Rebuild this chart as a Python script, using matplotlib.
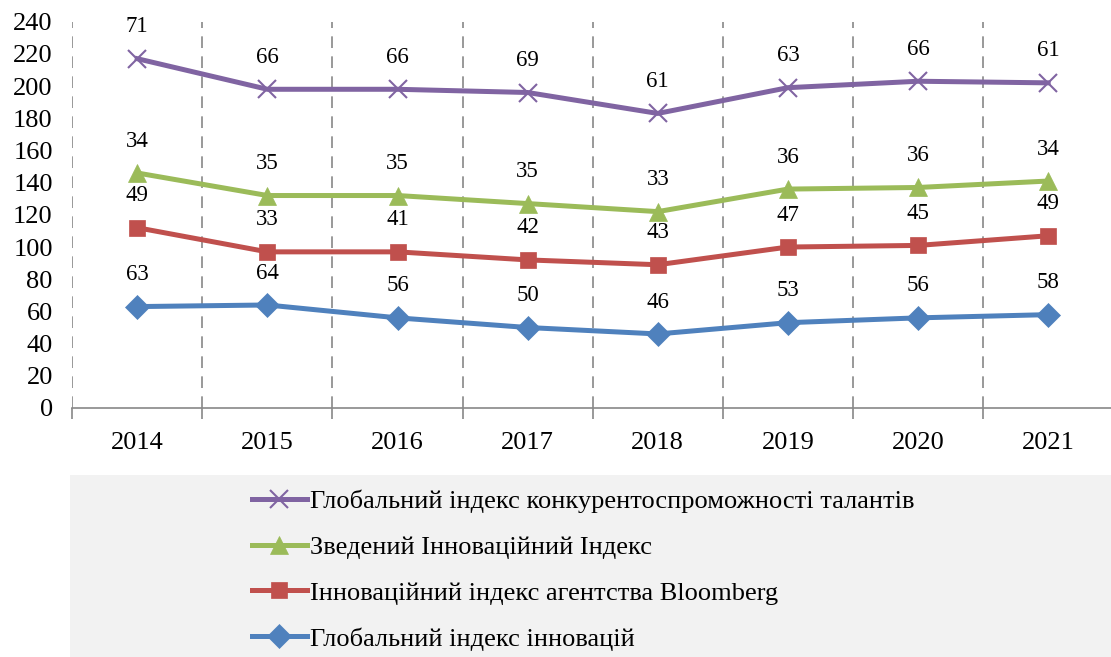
import matplotlib.pyplot as plt
import matplotlib.patches as mpatches
import numpy as np

years = ["2014", "2015", "2016", "2017", "2018", "2019", "2020", "2021"]

# values per index (chart is stacked)
gii = [63, 64, 56, 50, 46, 53, 56, 58]
bloomberg = [49, 33, 41, 42, 43, 47, 45, 49]
summary = [34, 35, 35, 35, 33, 36, 36, 34]
talent = [71, 66, 66, 69, 61, 63, 66, 61]

names = [
    "Глобальний індекс інновацій",
    "Інноваційний індекс агентства Bloomberg",
    "Зведений Інноваційний Індекс",
    "Глобальний індекс конкурентоспроможності талантів",
]
colors = ["#4f81bd", "#c0504d", "#9bbb59", "#8064a2"]
markers = ["D", "s", "^", "x"]
msizes = [12, 11, 13, 13]

plt.rcParams["font.family"] = ["Liberation Serif", "DejaVu Serif"]

fig = plt.figure(figsize=(11.11, 6.57), dpi=100)
ax = fig.add_axes([0.065, 0.379, 0.937, 0.588])

# legend background
fig.patches.append(mpatches.Rectangle((0.063, 0.0), 0.937, 0.277,
                                      transform=fig.transFigure,
                                      facecolor="#f2f2f2", edgecolor="none",
                                      zorder=0))

x = np.arange(len(years))
series = [gii, bloomberg, summary, talent]
cum = np.zeros(len(years))
lines = []
for vals, name, c, m, ms in zip(series, names, colors, markers, msizes):
    cum = cum + np.array(vals)
    ln, = ax.plot(x, cum, color=c, lw=3.6, marker=m, ms=ms,
                  markeredgewidth=1.5 if m == "x" else 0.5,
                  markeredgecolor=c, label=name, zorder=3)
    lines.append(ln)
    for xi, yi, v in zip(x, cum, vals):
        ax.annotate(str(v), (xi, yi), xytext=(0, 23), textcoords="offset points",
                    ha="center", va="center", fontsize=16.5)

ax.set_xlim(-0.5, len(years) - 0.5)
ax.set_ylim(0, 240)
ax.set_yticks(range(0, 241, 20))
ax.tick_params(axis="y", length=0, labelsize=19, pad=14)
ax.set_xticks(x)
ax.set_xticklabels(years)
ax.tick_params(axis="x", length=0, labelsize=19, pad=17)
ax.set_xticks(np.arange(-0.5, len(years), 1), minor=True)
ax.tick_params(axis="x", which="minor", length=8, color="#888888", width=1.2)
ax.grid(True, axis="x", which="minor", linestyle=(0, (7, 5)), color="#888888", lw=1.2)
ax.grid(False, axis="y")
ax.grid(False, axis="x", which="major")

for s in ["top", "right", "left"]:
    ax.spines[s].set_visible(False)
ax.spines["bottom"].set_color("#888888")
ax.spines["bottom"].set_linewidth(1.2)

fig.legend(lines[::-1], names[::-1], loc="center left",
           bbox_to_anchor=(0.205, 1 - 570 / 657), frameon=False,
           fontsize=19, handlelength=2.1, handletextpad=0.1,
           labelspacing=0.85)

plt.savefig("out.png", dpi=100)
plt.close()
